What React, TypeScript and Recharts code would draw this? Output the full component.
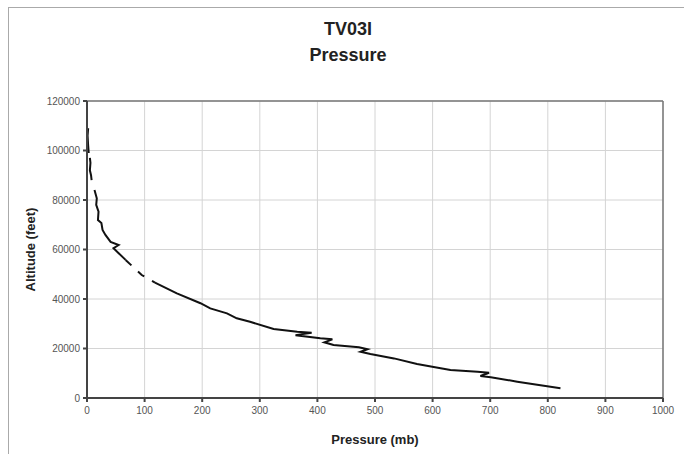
import { CartesianGrid, Line, LineChart, ReferenceLine, XAxis, YAxis } from "recharts";

// pressure (mb) / altitude (ft), split where the trace breaks
const topPressure = [2, 1, 2, 3];
const topAltitude = [109000, 106000, 102000, 99000];

const upperPressure = [5, 6, 5, 7, 8];
const upperAltitude = [97000, 95000, 92000, 90000, 88000];

const midPressure = [13, 17, 16, 20, 19, 25, 27, 32, 41, 55, 46, 55, 67];
const midAltitude = [84000, 80700, 78000, 75300, 71900, 70700, 67900, 65900, 63100, 61800, 60500, 58500, 55800];

const gapPressure = [67, 95, 118];
const gapAltitude = [55800, 49700, 46600];

const lowPressure = [
  118, 156, 197, 214, 243, 260, 283, 324, 365, 390, 362, 405, 426, 412, 428, 472, 487, 475, 492, 533, 573,
  614, 631, 678, 698, 683, 701, 747, 822,
];
const lowAltitude = [
  46600, 42300, 38300, 36200, 34200, 32200, 30800, 27900, 26800, 26400, 25400, 24100, 23700, 22500, 21400,
  20500, 19700, 18700, 17800, 16000, 13700, 12000, 11300, 10600, 10200, 8900, 8400, 6600, 3900,
];

const xTicks = [0, 100, 200, 300, 400, 500, 600, 700, 800, 900, 1000];
const yTicks = [0, 20000, 40000, 60000, 80000, 100000, 120000];

const zip = (p: number[], a: number[]) => p.map((v, i) => ({ p: v, a: a[i] }));

const font = "'Liberation Sans', Arial, sans-serif";
const tick = { fontSize: 10, fill: "#555", fontFamily: font };

export default function App() {
  const segments = [
    zip(topPressure, topAltitude),
    zip(upperPressure, upperAltitude),
    zip(midPressure, midAltitude),
    zip(lowPressure, lowAltitude),
  ];
  return (
    <div style={{ position: "fixed", left: 0, top: 0, width: 684, height: 454, background: "#fff", fontFamily: font }}>
      <div
        style={{
          position: "absolute",
          left: 8,
          top: 7,
          right: 0,
          bottom: 0,
          borderTop: "1.5px solid #aaa",
          borderLeft: "1.5px solid #aaa",
        }}
      />
      <div
        style={{
          position: "absolute",
          left: 0,
          width: 696,
          top: 16,
          textAlign: "center",
          fontWeight: "bold",
          fontSize: 18,
          lineHeight: "26px",
          color: "#222",
        }}
      >
        TV03I
        <br />
        Pressure
      </div>
      <LineChart width={684} height={454} margin={{ top: 101, right: 21, bottom: 26, left: 27 }}>
        <CartesianGrid stroke="#d4d4d4" strokeWidth={1} />
        <XAxis
          type="number"
          dataKey="p"
          domain={[0, 1000]}
          ticks={xTicks}
          allowDataOverflow
          height={30}
          tick={tick}
          tickSize={4}
          tickMargin={5}
          stroke="#444"
          strokeWidth={2}
          label={{
            value: "Pressure (mb)",
            position: "insideBottom",
            offset: -16,
            style: { fontSize: 13, fontWeight: "bold", fill: "#222", fontFamily: font },
          }}
        />
        <YAxis
          type="number"
          domain={[0, 120000]}
          ticks={yTicks}
          allowDataOverflow
          width={60}
          tick={tick}
          tickSize={4}
          tickMargin={3}
          stroke="#444"
          strokeWidth={2}
          label={{
            value: "Altitude (feet)",
            angle: -90,
            position: "insideLeft",
            offset: 3,
            style: { fontSize: 13, fontWeight: "bold", fill: "#222", fontFamily: font, textAnchor: "middle" },
          }}
        />
        <ReferenceLine y={120000} stroke="#777" strokeWidth={1.5} />
        <ReferenceLine x={1000} stroke="#777" strokeWidth={1.5} />
        {segments.map((seg, i) => (
          <Line
            key={i}
            data={seg}
            dataKey="a"
            type="linear"
            stroke="#111"
            strokeWidth={2}
            dot={false}
            isAnimationActive={false}
          />
        ))}
        <Line
          data={zip(gapPressure, gapAltitude)}
          dataKey="a"
          type="linear"
          stroke="#111"
          strokeWidth={2}
          strokeDasharray="8 9"
          dot={false}
          isAnimationActive={false}
        />
      </LineChart>
    </div>
  );
}
